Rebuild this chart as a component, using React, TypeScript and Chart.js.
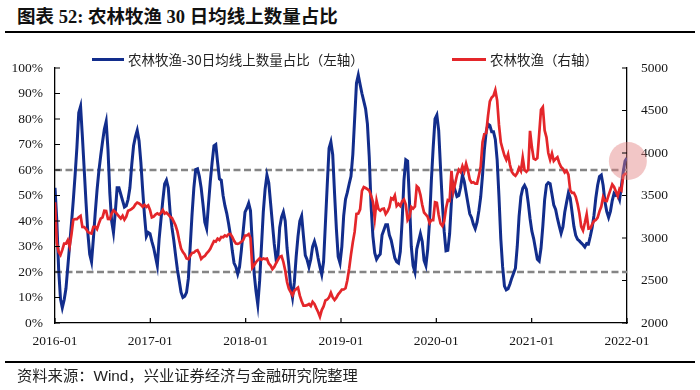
import React, { useEffect, useRef } from 'react';
import { Chart, registerables } from 'chart.js';

Chart.register(...registerables);

// ---- data (weekly readings, 2016-01 .. 2022-01) ----
const START_YEAR = 2016;
const END_YEAR = 2022;
const WEEKS_PER_YEAR = 365.25 / 7;

// 农林牧渔-30日均线上数量占比 (%), left axis
const blue2016 = [53, 40, 21, 9.5, 6, 9, 13.5, 22, 30.5, 39, 48, 58, 69, 82.5, 85, 73, 60, 47, 35, 27, 24, 33, 43, 52, 59.5, 65.5, 71, 76, 79, 68, 51, 40, 35.5, 43.5, 53, 53, 50.5, 48, 45.5, 46, 48.5, 53, 62, 69.5, 73, 75.5, 71.5, 63, 52, 42, 34, 35.5];
const blue2017 = [35, 32, 29.5, 26, 22.5, 33, 40.5, 48, 54.5, 56, 53, 43.5, 37.5, 32.5, 26.5, 21, 16.5, 12, 10, 10.5, 12, 17.5, 30, 42.5, 53, 60.2, 60.5, 57.5, 53, 46.5, 39.5, 37, 46.5, 55.5, 63, 69.5, 70, 63, 56.5, 56, 50, 46, 43, 39, 34.5, 28.5, 23.5, 22, 19.3, 22, 28.5, 36];
const blue2018 = [43.5, 45, 47, 44, 31, 19.5, 12.5, 7.2, 16.5, 30, 43.5, 52.5, 58, 55, 47, 39, 31, 25, 26.5, 37.5, 41.5, 43.5, 40, 29.5, 22.5, 14, 10, 16, 26, 34, 40, 42, 34, 26.5, 24.8, 22, 25, 30, 32, 29.5, 25.5, 22, 19, 24, 39, 54, 68.5, 71, 66, 51, 37, 26];
const blue2019 = [23.5, 30, 42, 48.5, 51.2, 54.5, 57.5, 66, 80, 94, 97.2, 93.5, 90, 87, 84, 78, 65, 46, 34, 27.5, 25, 26.2, 27, 34.5, 36.5, 38.5, 38.5, 34.5, 32.5, 29, 25.5, 24, 23.5, 28, 40, 56, 64, 63.5, 48, 30, 22.5, 20, 29, 32, 35, 32, 24.5, 22.5, 29, 40, 56, 69];
const blue2020 = [80, 81.5, 75.5, 61, 47, 36, 28.3, 28.5, 35, 48, 54.3, 52, 49.6, 50, 53.2, 58, 55.5, 51.2, 47, 42.8, 41.3, 38.7, 37, 39.5, 44, 49.5, 58, 68, 75, 78, 77.5, 75, 75, 72, 64, 49.5, 33, 22, 14.5, 13, 13.4, 15.3, 17.6, 19.5, 21.5, 30, 41.8, 49.5, 52.8, 54, 52.5, 47.2];
const blue2021 = [41, 36, 33, 29, 25, 24.3, 29.3, 38, 48.4, 54.2, 55, 54.6, 50.5, 46.2, 44.5, 41, 38, 35.2, 37.7, 43.4, 47.3, 51, 49, 43.5, 37.9, 34.4, 32.8, 32.2, 31.4, 30.7, 29.8, 31.2, 31, 34, 37.5, 42.3, 49, 54, 57.4, 58, 54, 47.5, 43.7, 41.4, 43.8, 48, 50.8, 50, 50.3, 48.4, 53.6, 59.2, 63.5, 64.7];

// 农林牧渔 index, right axis
const red2016 = [3420, 2940, 2835, 2800, 2860, 2935, 2935, 2975, 2900, 3040, 3215, 3223, 3222, 3245, 3260, 3130, 3128, 3105, 3070, 3058, 3052, 3130, 3134, 3105, 3170, 3227, 3243, 3320, 3318, 3223, 3222, 3287, 3326, 3307, 3280, 3255, 3230, 3262, 3215, 3250, 3320, 3328, 3343, 3360, 3395, 3417, 3406, 3390, 3367, 3388, 3366, 3383];
const red2017 = [3330, 3242, 3252, 3276, 3290, 3275, 3296, 3329, 3286, 3298, 3277, 3250, 3235, 3193, 3147, 3077, 2970, 2875, 2834, 2806, 2759, 2752, 2790, 2823, 2828, 2849, 2856, 2817, 2754, 2777, 2789, 2818, 2842, 2873, 2920, 2964, 2958, 2993, 2977, 3012, 3009, 3030, 3019, 3045, 3047, 3013, 2966, 2935, 2930, 2940, 2955, 2977];
const red2018 = [3028, 3030, 3047, 3000, 2650, 2680, 2715, 2740, 2762, 2745, 2758, 2752, 2757, 2700, 2675, 2635, 2660, 2703, 2742, 2779, 2787, 2718, 2618, 2482, 2402, 2363, 2325, 2380, 2400, 2417, 2322, 2257, 2205, 2205, 2210, 2223, 2200, 2250, 2225, 2175, 2130, 2075, 2152, 2195, 2265, 2276, 2301, 2356, 2301, 2270, 2298, 2337];
const red2019 = [2364, 2393, 2394, 2409, 2503, 2641, 2805, 2950, 3072, 3283, 3288, 3337, 3555, 3599, 3588, 3574, 3557, 3498, 3425, 3230, 3440, 3343, 3322, 3342, 3346, 3282, 3313, 3361, 3468, 3453, 3500, 3378, 3403, 3378, 3433, 3453, 3394, 3210, 3243, 3365, 3345, 3370, 3610, 3590, 3508, 3390, 3300, 3275, 3250, 3176, 3211, 3210];
const red2020 = [3420, 3414, 3270, 3170, 3141, 3195, 3347, 3445, 3437, 3790, 3548, 3638, 3738, 3803, 3775, 3845, 3784, 3875, 3797, 3688, 3650, 3656, 3640, 3640, 3736, 3840, 4127, 4225, 4235, 4438, 4608, 4653, 4674, 4740, 4620, 4330, 4125, 4046, 3969, 3921, 3985, 3862, 3780, 3748, 3732, 3764, 3826, 3788, 3946, 3800, 3780, 3806];
const red2021 = [4260, 4070, 3934, 3922, 3940, 4220, 4510, 4541, 4265, 4185, 4000, 3920, 3995, 3907, 3930, 3950, 3882, 3835, 3813, 3771, 3793, 3745, 3560, 3531, 3532, 3485, 3402, 3290, 3135, 3090, 3180, 3280, 3110, 3115, 3160, 3200, 3212, 3240, 3314, 3370, 3482, 3438, 3436, 3505, 3566, 3630, 3600, 3548, 3493, 3580, 3560, 3733, 3755, 3755];

const breadthPct = [...blue2016, ...blue2017, ...blue2018, ...blue2019, ...blue2020, ...blue2021];
const indexLevel = [...red2016, ...red2017, ...red2018, ...red2019, ...red2020, ...red2021];
const weekDates = breadthPct.map((_, i) => START_YEAR + i / WEEKS_PER_YEAR);

const refLevels = [60, 20];
const leftAxis = { min: 0, max: 100, step: 10 };
const rightAxis = { min: 2000, max: 5000, step: 500 };

const SERIES_BLUE = '农林牧渔-30日均线上数量占比（左轴）';
const SERIES_RED = '农林牧渔（右轴）';
const TITLE = '图表 52: 农林牧渔 30 日均线上数量占比';
const SOURCE = '资料来源：Wind，兴业证券经济与金融研究院整理';

const BLUE = '#122d8c';
const RED = '#e4262a';
const TICK_FONT = { family: '"Liberation Serif", "Times New Roman", serif', size: 13.5 };
const TICK_COLOR = '#151515';

const refLinesPlugin = {
  id: 'refLines',
  beforeDatasetsDraw(chart: any) {
    const { ctx, chartArea, scales } = chart;
    ctx.save();
    ctx.strokeStyle = '#858585';
    ctx.lineWidth = 2.5;
    ctx.setLineDash([7, 3.5]);
    refLevels.forEach((lv) => {
      const y = scales.y.getPixelForValue(lv);
      ctx.beginPath();
      ctx.moveTo(chartArea.left, y);
      ctx.lineTo(chartArea.right, y);
      ctx.stroke();
    });
    ctx.restore();
  },
};

const inwardTicksPlugin = {
  id: 'inwardTicks',
  afterDraw(chart: any) {
    const { ctx, chartArea, scales } = chart;
    const L = 5;
    ctx.save();
    ctx.strokeStyle = '#000';
    ctx.lineWidth = 1.2;
    ctx.beginPath();
    scales.y.ticks.forEach((t: any) => {
      const y = scales.y.getPixelForValue(t.value);
      ctx.moveTo(chartArea.left, y);
      ctx.lineTo(chartArea.left + L, y);
    });
    scales.y1.ticks.forEach((t: any) => {
      const y = scales.y1.getPixelForValue(t.value);
      ctx.moveTo(chartArea.right, y);
      ctx.lineTo(chartArea.right - L, y);
    });
    scales.x.ticks.forEach((t: any) => {
      const x = scales.x.getPixelForValue(t.value);
      ctx.moveTo(x, chartArea.bottom);
      ctx.lineTo(x, chartArea.bottom - L);
    });
    ctx.stroke();
    ctx.restore();
  },
};

const highlightPlugin = {
  id: 'highlight',
  afterDatasetsDraw(chart: any) {
    const meta = chart.getDatasetMeta(1);
    const pt = meta.data[meta.data.length - 1];
    if (!pt) return;
    const { ctx } = chart;
    ctx.save();
    ctx.fillStyle = 'rgba(226, 128, 128, 0.45)';
    ctx.beginPath();
    ctx.arc(pt.x + 1, pt.y + 3, 19, 0, Math.PI * 2);
    ctx.fill();
    ctx.restore();
  },
};

function LegendItem({ left, color, lineWidth, text }: { left: number; color: string; lineWidth: number; text: string }) {
  return (
    <div
      style={{
        position: 'absolute',
        left,
        top: 50,
        height: 18,
        display: 'flex',
        alignItems: 'center',
        fontFamily: '"Noto Sans CJK SC", sans-serif',
        fontSize: 13.5,
        color: '#222',
        whiteSpace: 'nowrap',
      }}
    >
      <span style={{ display: 'inline-block', width: lineWidth, height: 3, background: color, marginRight: 4 }} />
      <span>{text}</span>
    </div>
  );
}

export default function App() {
  const canvasRef = useRef<HTMLCanvasElement | null>(null);

  useEffect(() => {
    if (!canvasRef.current) return;
    const chart = new Chart(canvasRef.current, {
      type: 'line',
      data: {
        datasets: [
          {
            label: SERIES_RED,
            data: indexLevel.map((v, i) => ({ x: weekDates[i], y: v })),
            yAxisID: 'y1',
            borderColor: RED,
            borderWidth: 2.7,
            pointRadius: 0,
            tension: 0,
            order: 0,
          },
          {
            label: SERIES_BLUE,
            data: breadthPct.map((v, i) => ({ x: weekDates[i], y: v })),
            yAxisID: 'y',
            borderColor: BLUE,
            borderWidth: 3,
            pointRadius: 0,
            tension: 0,
            order: 1,
          },
        ],
      },
      options: {
        animation: false,
        responsive: false,
        layout: { padding: { top: 68, left: 0, right: 0, bottom: 0 } },
        plugins: { legend: { display: false }, tooltip: { enabled: false } },
        scales: {
          x: {
            type: 'linear',
            min: START_YEAR,
            max: END_YEAR,
            grid: { display: false, drawTicks: false },
            border: { display: true, color: '#000', width: 1.3 },
            ticks: {
              stepSize: 1,
              padding: 10,
              autoSkip: false,
              maxRotation: 0,
              font: TICK_FONT,
              color: TICK_COLOR,
              callback: (v: any) => `${v}-01`,
            },
            afterFit: (s: any) => {
              s.height = 67;
            },
          },
          y: {
            position: 'left',
            min: leftAxis.min,
            max: leftAxis.max,
            grid: { display: false, drawTicks: false },
            border: { display: true, color: '#000', width: 1.3 },
            ticks: {
              stepSize: leftAxis.step,
              padding: 12,
              font: TICK_FONT,
              color: TICK_COLOR,
              callback: (v: any) => `${v}%`,
            },
            afterFit: (s: any) => {
              s.width = 55;
            },
          },
          y1: {
            position: 'right',
            min: rightAxis.min,
            max: rightAxis.max,
            grid: { display: false, drawTicks: false },
            border: { display: true, color: '#000', width: 1.3 },
            ticks: {
              stepSize: rightAxis.step,
              padding: 14,
              font: TICK_FONT,
              color: TICK_COLOR,
              callback: (v: any) => String(v),
            },
            afterFit: (s: any) => {
              s.width = 73;
            },
          },
        },
      } as any,
      plugins: [refLinesPlugin, inwardTicksPlugin, highlightPlugin],
    });
    return () => chart.destroy();
  }, []);

  return (
    <div style={{ position: 'fixed', left: 0, top: 0, width: 700, height: 390, background: '#fff', overflow: 'hidden' }}>
      <div
        style={{
          position: 'absolute',
          left: 17,
          top: 6,
          lineHeight: '22px',
          fontSize: 18.5,
          fontWeight: 700,
          fontFamily: '"Liberation Serif", "Noto Sans CJK SC", serif',
          color: '#111',
          whiteSpace: 'nowrap',
        }}
      >
        {TITLE}
      </div>
      <div style={{ position: 'absolute', left: 5, top: 31, width: 690, height: 1.5, background: '#000' }} />
      <canvas ref={canvasRef} width={700} height={390} style={{ position: 'absolute', left: 0, top: 0 }} />
      <LegendItem left={92} color={BLUE} lineWidth={32} text={SERIES_BLUE} />
      <LegendItem left={452} color={RED} lineWidth={34} text={SERIES_RED} />
      <div style={{ position: 'absolute', left: 5, top: 361, width: 690, height: 1.5, background: '#000' }} />
      <div
        style={{
          position: 'absolute',
          left: 17,
          top: 366,
          lineHeight: '20px',
          fontSize: 15.3,
          fontFamily: '"Liberation Sans", "Noto Sans CJK SC", sans-serif',
          color: '#222',
          whiteSpace: 'nowrap',
        }}
      >
        {SOURCE}
      </div>
    </div>
  );
}
